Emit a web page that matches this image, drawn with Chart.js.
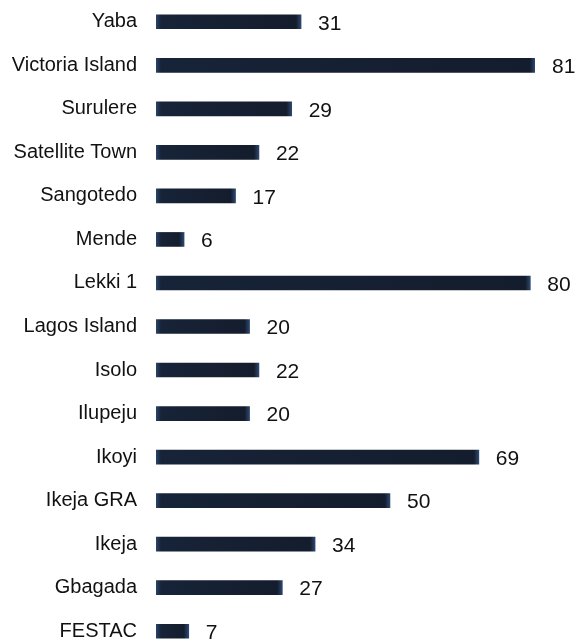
<!DOCTYPE html>
<html>
<head>
<meta charset="utf-8">
<script src="https://cdn.jsdelivr.net/npm/chart.js@4/dist/chart.umd.min.js"></script>
<style>
  html, body { margin: 0; padding: 0; background: #fff; overflow: hidden; }
  canvas { display: block; }
</style>
</head>
<body>
<canvas id="chart" width="579" height="653"></canvas>
<script>
let areas = ['Yaba', 'Victoria Island', 'Surulere', 'Satellite Town', 'Sangotedo', 'Mende', 'Lekki 1',
  'Lagos Island', 'Isolo', 'Ilupeju', 'Ikoyi', 'Ikeja GRA', 'Ikeja', 'Gbagada', 'FESTAC']
let counts = [31, 81, 29, 22, 17, 6, 80, 20, 22, 20, 69, 50, 34, 27, 7]

let fontFamily = '"Liberation Sans", Arial, Helvetica, sans-serif'

// dark navy bar, a touch bluer at both ends
function barFill(context) {
  let chart = context.chart
  if (!chart.chartArea) return '#151f30'
  let xs = chart.scales.x
  let x0 = xs.getPixelForValue(0)
  let x1 = xs.getPixelForValue(context.raw)
  let g = chart.ctx.createLinearGradient(x0, 0, x1, 0)
  let w = Math.max(x1 - x0, 1)
  let e = Math.min(5 / w, 0.4)
  g.addColorStop(0, '#2a4468')
  g.addColorStop(e, '#172338')
  g.addColorStop(1 - e, '#141d2d')
  g.addColorStop(1, '#2d4870')
  return g
}

let valueLabels = {
  id: 'valueLabels',
  afterDatasetsDraw(chart) {
    let ctx = chart.ctx
    let meta = chart.getDatasetMeta(0)
    ctx.save()
    ctx.font = '21px ' + fontFamily
    ctx.fillStyle = '#111'
    ctx.textBaseline = 'middle'
    ctx.textAlign = 'left'
    meta.data.forEach((bar, i) => {
      ctx.fillText(String(counts[i]), bar.x + 17, bar.y + 2)
    })
    ctx.restore()
  },
}

new Chart(document.getElementById('chart'), {
  type: 'bar',
  data: {
    labels: areas,
    datasets: [{
      data: counts,
      backgroundColor: barFill,
      borderWidth: 0,
      barThickness: 14,
    }],
  },
  options: {
    indexAxis: 'y',
    responsive: false,
    animation: false,
    layout: {
      padding: { left: 0, right: 44, top: 0, bottom: 0 },
    },
    plugins: {
      legend: { display: false },
      tooltip: { enabled: false },
    },
    scales: {
      x: {
        min: 0,
        max: 81,
        display: false,
        grid: { display: false },
      },
      y: {
        grid: { display: false },
        border: { display: false },
        ticks: {
          color: '#111',
          padding: 11,
          font: { size: 20, family: fontFamily },
        },
        afterFit(scale) {
          scale.width = 156
          scale.paddingTop = 0
          scale.paddingBottom = 0
        },
      },
    },
  },
  plugins: [valueLabels],
})
</script>
</body>
</html>
